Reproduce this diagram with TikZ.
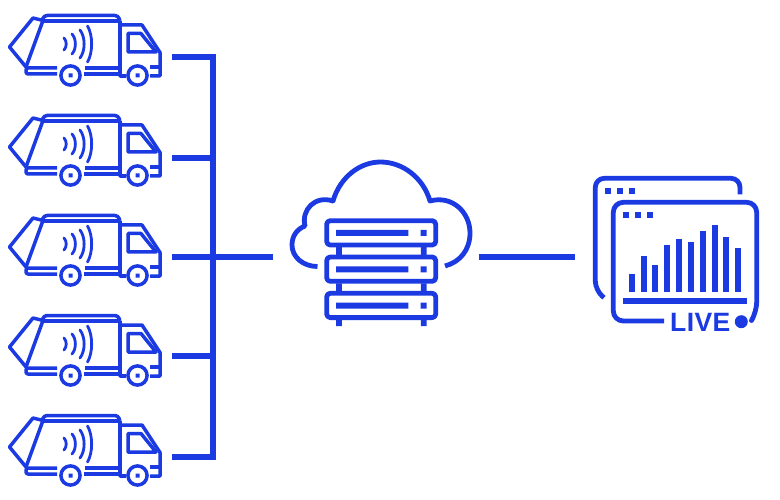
\documentclass[tikz,border=0pt]{standalone}
\usepackage{fontspec}
\setmainfont{Liberation Sans}
\usetikzlibrary{calc}
\definecolor{IconBlue}{RGB}{27,58,226}
\tikzset{
  busline/.style={line width=5.2pt,IconBlue},
  iconline/.style={line width=4.8pt,IconBlue,line join=round},
  truckline/.style={line width=3.5pt,IconBlue,line join=round},
  truckicon/.pic={
    \draw[truckline] (26,67)--(9.5,47)--(33,18)--(43,20.5)--cycle;
    \draw[truckline,rounded corners=3pt] (42,21)--(44,15.5)--(118,15.5)--(120,21);
    \draw[truckline] (42,21)--(120,21);
    \draw[truckline] (120,21)--(120,76)--(126,76);
    \draw[truckline] (120,25)--(142,25)--(160,52.5)--(160,76)--(150,76);
    \draw[truckline] (128,33.5)--(141,33.5)--(156,52)--(128,52)--cycle;
    \draw[truckline] (150,67)--(159,67);
    \draw[truckline,rounded corners=2pt] (57,68)--(26,68)--(26,74)--(57,74);
    \draw[truckline] (85,68)--(120,68) (84,74)--(120,74);
    \draw[truckline] (70.5,75.5) circle[radius=9.6] (137.5,75.5) circle[radius=9.6];
    \fill[IconBlue] (68.5,73.5) rectangle (72.5,77.5) (135.5,73.5) rectangle (139.5,77.5);
    \foreach \ax/\ay/\bx in {64/6/67,72/10/76.5,80/14/85.5,87.5/18/93}{
      \draw[truckline,line cap=round,line width=2.8pt] (\ax,44-\ay) .. controls (\bx,44-\ay/2) and (\bx,44+\ay/2) .. (\ax,44+\ay);}
    \coordinate (-port) at (172,44);
  }
}
\begin{document}
\begin{tikzpicture}[x=1pt,y=-1pt]
\useasboundingbox (0,0) rectangle (780,500);
% trucks and bus
\coordinate (bustop) at (213,57);
\coordinate (busbot) at (213,457);
\coordinate (cloudin) at (273,257);
\coordinate (cloudout) at (479,257);
\coordinate (dashin) at (575,257);
\foreach \n/\y in {1/0,2/100,3/200,4/300,5/400}{
\pic (truck\n) at (0,\y) {truckicon};}
\coordinate (port1) at (172,57);
\coordinate (port2) at (172,158);
\coordinate (port3) at (172,257);
\coordinate (port4) at (172,356);
\coordinate (port5) at (172,457);
\foreach \n in {1,2,4,5}{\draw[busline] (port\n)--(port\n-|bustop);}
\draw[busline] (port3)--(cloudin);
\draw[busline,line cap=rect] (bustop)--(busbot);
\draw[busline] (cloudout)--(dashin);
% cloud
\draw[iconline] (317.5,266.5) .. controls (303,266.5) and (292,257) .. (292,245)
  .. controls (292,236) and (297,229) .. (305,226)
  .. controls (301,210) and (315,195) .. (333,201)
  .. controls (340,177) and (360,162) .. (380.5,162)
  .. controls (402,162) and (423,177) .. (430,201)
  .. controls (452,195) and (470,212) .. (470,233)
  .. controls (470,250) and (460,262) .. (445,266);
% servers
\foreach \n/\y in {0/0,1/36.3,2/72.6}{
\draw[iconline,rounded corners=3.5pt] (326.7,220.7+\y) rectangle (435.7,245+\y);
\fill[IconBlue] (336,230+\y) rectangle (408.3,236+\y) (420.7,230+\y) rectangle (426.7,236+\y);}
\foreach \x in {339,423.7}{
\fill[IconBlue] (\x-2.9,247) rectangle (\x+2.9,255) (\x-2.9,283.3) rectangle (\x+2.9,291.3) (\x-2.9,319.5) rectangle (\x+2.9,326);}
% back window
\draw[iconline,rounded corners=9pt] (604,297.7)--(595.3,290)--(595.3,178.3)--(740,178.3)--(740,194.5);
\foreach \x in {605,617,629}{\fill[IconBlue] (\x,188.3) rectangle (\x+6,194.3);}
% front window
\draw[iconline,rounded corners=10pt] (664,321)--(613.3,321)--(613.3,202.3)--(756.7,202.3)--(756.7,312)--(753,318);
\foreach \x in {622.7,634.7,646.7}{\fill[IconBlue] (\x,212) rectangle (\x+6,218);}
\foreach \x/\t in {628.7/274.3,640.5/256.3,652.4/265,664.2/245.3,676/239.3,687.9/242.3,699.7/230.7,711.5/224.7,723.4/236.7,735.2/248.3}{
\fill[IconBlue] (\x,292.3) rectangle (\x+6,\t);}
\fill[IconBlue] (622.7,298.3) rectangle (746.7,303.7);
\node[anchor=base west,inner sep=0pt,text=IconBlue,font=\fontsize{26.5}{30}\selectfont\bfseries\addfontfeature{LetterSpace=1.5}] (livetag) at (670,331.7) {LIVE};
\fill[IconBlue] (741.3,321.7) circle[radius=6.5];
\end{tikzpicture}
\end{document}
